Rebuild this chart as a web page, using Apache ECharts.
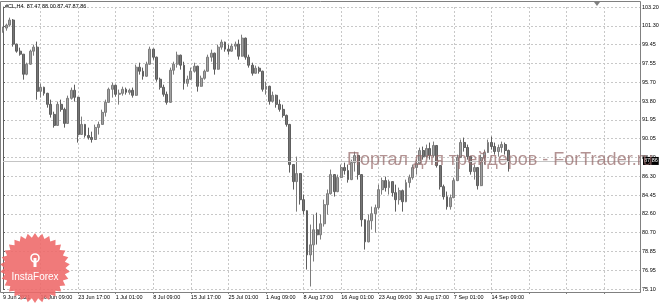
<!DOCTYPE html>
<html><head><meta charset="utf-8">
<script src="https://cdn.jsdelivr.net/npm/echarts@6/dist/echarts.min.js"></script>
<style>html,body{margin:0;padding:0;background:#fff}#c{width:665px;height:304px}</style>
</head><body><div id="c"></div>
<script>
const symbol = '#CL,H4';
const lastBarOHLC = [87.47, 88.00, 87.47, 87.86];
const xLabels = ['9 Jun 2021','16 Jun 09:00','23 Jun 17:00','1 Jul 01:00','8 Jul 09:00','15 Jul 17:00','25 Jul 01:00','1 Aug 09:00','8 Aug 17:00','16 Aug 01:00','23 Aug 09:00','30 Aug 17:00','7 Sep 01:00','14 Sep 09:00'];
const yLabels = ['75.10','76.95','78.85','80.70','82.60','84.45','86.30','88.20','90.05','91.95','93.80','95.70','97.55','99.45','101.30','103.20'];

const opens = [
100.8,101.1,101.4,101.9,99.5,98.8,98.5,96.5,97.5,98.8,
99.2,94.8,95.2,94.6,93.5,92.5,91.4,93.5,93.0,91.6,
94.1,94.9,94.2,90.5,91.5,90.4,90.2,90.0,91.2,91.5,
92.7,93.7,95.0,95.4,94.5,94.6,95.0,94.7,94.9,94.4,
97.2,96.8,96.3,97.5,99.0,98.2,96.0,95.2,94.5,93.7,
96.9,97.5,98.4,97.4,95.6,96.0,96.8,97.3,95.3,96.1,
96.8,98.2,98.6,97.0,99.2,99.7,99.0,98.8,99.3,99.5,
98.3,100.1,98.2,97.4,96.6,97.1,96.8,95.0,95.3,93.8,
94.4,93.5,93.0,92.4,91.5,87.5,85.8,86.6,84.0,82.9,
78.5,79.5,81.0,80.5,81.6,83.5,84.6,86.5,84.8,86.2,
87.2,86.9,86.0,87.7,88.4,86.5,82.0,79.8,81.9,82.6,
83.2,85.0,85.9,85.2,85.8,84.7,84.0,84.9,83.8,85.7,
86.2,87.2,87.6,88.9,88.3,89.1,88.4,89.4,87.4,85.3,
84.3,83.3,84.2,85.9,88.2,89.7,89.2,88.3,86.8,87.2,
85.4,88.2,88.7,89.7,89.3,88.8,89.2,89.5,88.9];
const closes = [
101.1,101.4,101.9,99.5,98.8,98.5,96.5,97.5,98.8,99.2,
94.8,95.2,94.6,93.5,92.5,91.4,93.5,93.0,91.6,94.1,
94.9,94.2,90.5,91.5,90.4,90.2,90.0,91.2,91.5,92.7,
93.7,95.0,95.4,94.5,94.6,95.0,94.7,94.9,94.4,97.2,
96.8,96.3,97.5,99.0,98.2,96.0,95.2,94.5,93.7,96.9,
97.5,98.4,97.4,95.6,96.0,96.8,97.3,95.3,96.1,96.8,
98.2,98.6,97.0,99.2,99.7,99.0,98.8,99.3,99.5,98.3,
100.1,98.2,97.4,96.6,97.1,96.8,95.0,95.3,93.8,94.4,
93.5,93.0,92.4,91.5,87.5,85.8,86.6,84.0,82.9,78.5,
79.5,81.0,80.5,81.6,83.5,84.6,86.5,84.8,86.2,87.2,
86.9,86.0,87.7,88.4,86.5,82.0,79.8,81.9,82.6,83.2,
85.0,85.9,85.2,85.8,84.7,84.0,84.9,83.8,85.7,86.2,
87.2,87.6,88.9,88.3,89.1,88.4,89.4,87.4,85.3,84.3,
83.3,84.2,85.9,88.2,89.7,89.2,88.3,86.8,87.2,85.4,
88.2,88.7,89.7,89.3,88.8,89.2,89.5,88.9,87.86];
const lows = [
100.64,100.84,101.24,99.25,98.65,98.35,95.96,96.40,97.45,98.35,
93.97,94.17,94.37,93.17,92.18,91.18,91.35,92.77,91.18,91.55,
93.97,93.77,89.69,90.49,90.19,89.99,89.69,89.95,90.49,91.48,
92.28,93.65,94.17,94.27,93.47,94.37,94.47,94.47,94.17,94.35,
96.46,95.96,96.25,97.45,97.95,95.76,94.97,94.27,93.47,93.65,
96.46,97.16,96.96,94.97,95.26,95.96,96.66,94.77,95.25,95.96,
96.75,97.75,96.46,96.95,98.95,98.75,98.45,98.75,98.95,97.95,
98.25,97.95,97.16,96.36,96.55,96.56,94.77,94.47,93.47,93.67,
93.17,92.77,92.18,91.28,86.70,85.01,82.81,83.51,82.52,77.04,
75.35,77.84,79.53,80.03,81.32,82.52,84.51,84.31,84.75,86.15,
86.50,85.70,85.95,86.80,86.00,81.32,79.03,79.75,81.02,80.72,
83.01,84.51,84.81,84.51,84.31,82.81,83.51,82.81,83.75,85.20,
86.00,86.50,87.55,87.99,88.19,87.99,88.19,87.20,85.01,84.01,
83.01,83.01,84.15,85.85,88.15,88.79,87.99,86.50,86.00,85.01,
85.35,87.50,88.65,88.99,88.49,88.29,88.69,88.49,86.80];
const highs = [
101.24,101.54,102.14,102.00,99.55,99.15,98.50,97.65,98.95,99.45,
99.75,95.56,95.26,94.65,93.97,92.77,93.77,93.97,93.17,94.37,
95.17,95.46,94.25,92.28,91.55,91.18,90.78,91.48,91.78,92.97,
93.97,95.17,95.66,95.45,94.97,95.26,95.17,95.07,95.17,97.46,
97.65,97.16,97.75,99.25,99.05,98.25,96.16,95.46,94.77,97.16,
97.75,98.75,98.45,97.75,96.36,97.16,97.65,97.35,96.36,96.96,
98.45,98.95,98.65,99.45,99.95,99.75,99.45,99.55,99.75,99.95,
100.44,100.15,98.45,97.65,97.36,97.26,96.85,95.76,95.35,94.77,
94.47,93.97,93.47,92.48,91.55,87.50,88.29,86.65,84.51,82.95,
81.52,82.52,82.71,82.52,84.01,85.01,87.00,86.55,86.50,87.50,
87.69,87.50,87.99,88.79,88.45,86.55,82.05,82.52,83.31,83.51,
85.50,86.20,86.30,86.00,85.80,85.50,85.20,85.01,86.00,86.50,
87.50,87.99,89.19,89.29,89.49,89.69,89.79,89.45,87.45,85.50,
84.81,84.51,86.20,88.49,89.99,90.19,89.49,88.35,87.50,87.25,
88.49,88.99,89.99,90.29,89.69,89.49,89.79,89.69,88.99];

const watermark = 'Портал для трейдеров - ForTrader.ru';
const logoText = 'InstaForex';

const Y_MIN = 75.10, Y_MAX = 103.20, Y_STEP = (Y_MAX - Y_MIN) / (yLabels.length - 1);
const X_STEP = 11, X_MAX = 186.5;
const candles = opens.map((o, i) => [i, o, closes[i], lows[i], highs[i]]);
const lastClose = closes[closes.length - 1];

function labelFrom(arr, v, min, step) {
  const f = (v - min) / step, idx = Math.round(f);
  if (Math.abs(f - idx) > 0.01 || idx < 0 || idx >= arr.length) return '';
  return arr[idx];
}

// starburst logo outline
const star = [];
const SC = [35, 268], NP = 30;
for (let k = 0; k < NP * 2; k++) {
  const r = k % 2 === 0 ? 35 : 30.5;
  const a = Math.PI * k / NP - Math.PI / 2;
  star.push([SC[0] + r * Math.cos(a), SC[1] + r * Math.sin(a)]);
}

const FONT = 'Liberation Sans, Arial, sans-serif';
const chart = echarts.init(document.getElementById('c'), null, {renderer: 'canvas'});
chart.setOption({
  animation: false,
  backgroundColor: '#fff',
  title: {
    text: symbol + '  ' + lastBarOHLC.map(v => v.toFixed(2)).join(' '),
    left: 5, top: 3, padding: 0,
    textStyle: {fontSize: 5.5, fontWeight: 'normal', color: '#000', fontFamily: FONT}
  },
  grid: {left: 1, right: 25, top: 7, bottom: 15, containLabel: false},
  xAxis: {
    type: 'value', min: 0, max: X_MAX, interval: X_STEP,
    offset: 3,
    axisLine: {show: true, lineStyle: {color: '#808080', width: 1}},
    axisTick: {show: true, length: 2, lineStyle: {color: '#808080'}},
    axisLabel: {
      show: true, align: 'left', margin: 2, fontSize: 5.5, color: '#000', fontFamily: FONT,
      showMaxLabel: false,
      formatter: v => labelFrom(xLabels, v, 0, X_STEP)
    },
    splitLine: {show: true, lineStyle: {color: '#c8c8c8', type: [2, 2], width: 1}}
  },
  yAxis: {
    type: 'value', position: 'right', min: Y_MIN, max: Y_MAX, interval: Y_STEP,
    axisLine: {show: true, lineStyle: {color: '#606060', width: 1}},
    axisTick: {show: true, length: 2, lineStyle: {color: '#606060'}},
    axisLabel: {
      show: true, margin: 2, fontSize: 5.5, color: '#000', fontFamily: FONT,
      formatter: v => labelFrom(yLabels, v, Y_MIN, Y_STEP)
    },
    splitLine: {show: true, lineStyle: {color: '#c8c8c8', type: [2, 2], width: 1}}
  },
  series: [{
    type: 'candlestick',
    data: candles,
    encode: {x: 0, y: [1, 2, 3, 4]},
    barWidth: 2.4,
    itemStyle: {color: '#a2a2a2', color0: '#767676', borderColor: '#7c7c7c', borderColor0: '#5e5e5e', borderWidth: 1},
    markLine: {
      silent: true, symbol: 'none',
      data: [{yAxis: lastClose}],
      lineStyle: {color: '#c4c4c4', type: 'solid', width: 1},
      label: {
        position: 'end', distance: 3, formatter: () => lastClose.toFixed(2),
        backgroundColor: '#000', color: '#fff', fontSize: 5.5, padding: [1, 1], fontFamily: FONT
      }
    }
  }],
  graphic: [
    {type: 'rect', shape: {x: 0.5, y: 1.5, width: 640, height: 291}, style: {fill: 'none', stroke: '#808080', lineWidth: 1}, silent: true, z: 1},
    {type: 'polygon', shape: {points: [[594, 2], [600, 2], [597, 6]]}, style: {fill: '#808080'}, silent: true, z: 5},
    {type: 'text', left: 347, top: 151, z: 50, silent: true,
      style: {text: watermark, fill: 'rgba(150,105,105,0.72)', font: '18px ' + FONT}},
    {type: 'polygon', shape: {points: star}, style: {fill: 'rgba(238,104,104,0.88)'}, silent: true, z: 60},
    {type: 'circle', shape: {cx: 35, cy: 258, r: 4}, style: {fill: 'none', stroke: '#fff', lineWidth: 1.6}, silent: true, z: 61},
    {type: 'rect', shape: {x: 33.5, y: 258, width: 3, height: 9}, style: {fill: '#fff'}, silent: true, z: 61},
    {type: 'text', x: 35, y: 277, z: 61, silent: true,
      style: {text: logoText, fill: '#fff', font: '10px ' + FONT, align: 'center', verticalAlign: 'middle'}}
  ]
});
</script></body></html>
